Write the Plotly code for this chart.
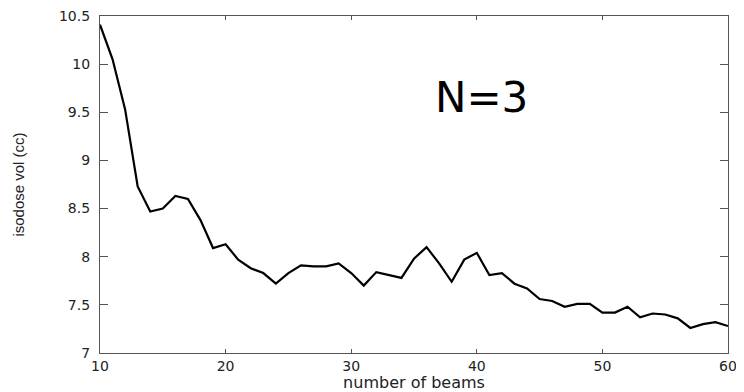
import plotly.graph_objects as go

beams = list(range(10, 61))
isodose_vol = [10.41, 10.05, 9.53, 8.73, 8.47, 8.50, 8.63, 8.60, 8.38, 8.09,
               8.13, 7.97, 7.88, 7.83, 7.72, 7.83, 7.91, 7.90, 7.90, 7.93,
               7.83, 7.70, 7.84, 7.81, 7.78, 7.98, 8.10, 7.93, 7.74, 7.97,
               8.04, 7.81, 7.83, 7.72, 7.67, 7.56, 7.54, 7.48, 7.51, 7.51,
               7.42, 7.42, 7.48, 7.37, 7.41, 7.40, 7.36, 7.26, 7.30, 7.32,
               7.28]
x_ticks = [10, 20, 30, 40, 50, 60]
y_ticks = [7, 7.5, 8, 8.5, 9, 9.5, 10, 10.5]
y_ticklabels = ["7", "7.5", "8", "8.5", "9", "9.5", "10", "10.5"]

fig = go.Figure()
fig.add_trace(go.Scatter(x=beams, y=isodose_vol, mode="lines",
                         line=dict(color="black", width=2.2), showlegend=False))

axis_common = dict(showline=True, linecolor="#555", linewidth=1.2, mirror="allticks",
                   ticks="inside", tickcolor="#555", tickwidth=1.2,
                   showgrid=False, zeroline=False, ticklabeloverflow="allow",
                   tickfont=dict(family="DejaVu Sans", size=14, color="#222"))

fig.update_xaxes(range=[10, 60], tickvals=x_ticks, ticklen=4,
                 ticklabelstandoff=0,
                 title=dict(text="number of beams", standoff=6,
                            font=dict(family="DejaVu Sans", size=16, color="#222")),
                 **axis_common)
fig.update_yaxes(range=[7, 10.5], tickvals=y_ticks, ticktext=y_ticklabels, ticklen=8,
                 ticklabelstandoff=6,
                 title=dict(text="isodose vol (cc)", standoff=30,
                            font=dict(family="Liberation Sans", size=15, color="#222")),
                 **axis_common)

fig.add_annotation(text="N=3", xref="paper", yref="paper", x=0.607, y=0.757,
                   showarrow=False, xanchor="center", yanchor="middle",
                   font=dict(family="DejaVu Sans", size=42, color="black"))

# page body adds an 8px offset; compensate so the plot area sits where the reference's does
fig.update_layout(width=736, height=384, paper_bgcolor="white", plot_bgcolor="white",
                  margin=dict(l=92, r=16, t=8, b=39, autoexpand=False))

fig.write_html("out.html")
